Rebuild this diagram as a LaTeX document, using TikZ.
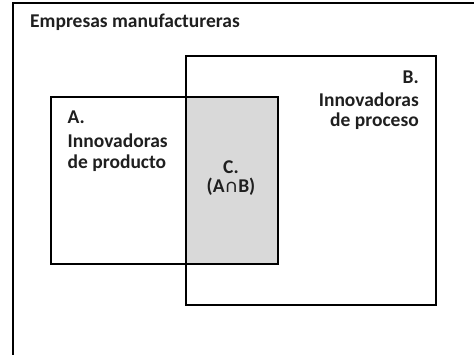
\documentclass[tikz,border=0pt]{standalone}
\usepackage{fontspec}
\setmainfont{Carlito}
\begin{document}
\begin{tikzpicture}[x=1pt,y=1pt,
  frame/.style={line width=1.8pt, black},
  setbox/.style={line width=2pt, black},
  lbl/.style={font=\bfseries\fontsize{19.5}{22}\selectfont, inner sep=0pt, text=black!88}
]
\useasboundingbox (0,0) rectangle (474,355);
% intersection fill
\fill[gray!30] (185,259) rectangle (277,92);
% outer frame (only left and top visible)
\coordinate (f1) at (13,0);
\coordinate (f2) at (13,352);
\coordinate (f3) at (474,352);
\draw[frame] (f1) -- (f2) -- (f3);
% set A
\node[setbox, draw, minimum width=227pt, minimum height=167pt, anchor=north west, inner sep=0pt] (A) at (50,259) {};
% set B
\node[setbox, draw, minimum width=250pt, minimum height=249pt, anchor=north west, inner sep=0pt] (B) at (185,300) {};
% labels
\node[lbl, anchor=base west] (title) at (30,327.5) {Empresas manufactureras};
\node[lbl, anchor=base west] (la1) at (67.5,231) {A.};
\node[lbl, anchor=base west] (la2) at (67.5,207) {Innovadoras};
\node[lbl, anchor=base west] (la3) at (67.5,186.5) {de producto};
\node[lbl, anchor=base east] (lb1) at (419,271) {B.};
\node[lbl, anchor=base east] (lb2) at (419,248.5) {Innovadoras};
\node[lbl, anchor=base east] (lb3) at (419,228) {de proceso};
\node[lbl, anchor=base] (lc1) at (231,181.5) {C.};
\node[lbl, anchor=base] (lc2) at (231,162) {(A∩B)};
\end{tikzpicture}
\end{document}
